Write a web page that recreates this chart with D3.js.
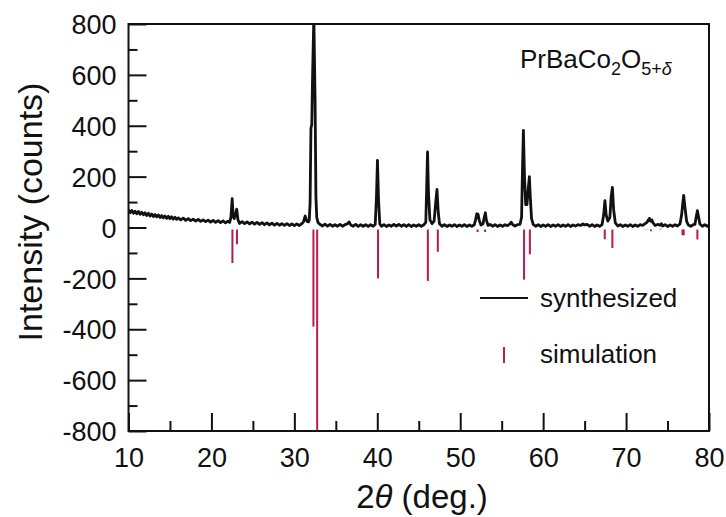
<!DOCTYPE html>
<html>
<head>
<meta charset="utf-8">
<script src="https://cdn.jsdelivr.net/npm/d3@7"></script>
<style>
body { margin: 0; background: #fff; }
svg text { font-family: "Liberation Sans", Arial, Helvetica, sans-serif; fill: #111; }
</style>
</head>
<body>
<svg id="chart" width="726" height="517"></svg>
<script>
// measured pattern (2theta, counts)
var synthesized = [
    [10.0,70],[10.2,58],[10.4,67],[10.6,56],[10.8,64],[11.0,54],[11.2,63],[11.4,52],[11.6,60],[11.8,50],
    [12.0,58],[12.2,47],[12.4,56],[12.6,45],[12.8,53],[13.0,43],[13.2,51],[13.4,42],[13.6,49],[13.8,39],
    [14.0,47],[14.2,38],[14.4,45],[14.6,36],[14.8,44],[15.0,35],[15.2,42],[15.4,33],[15.6,40],[15.8,32],
    [16.0,38],[16.3,30],[16.6,37],[16.9,28],[17.2,35],[17.5,27],[17.8,33],[18.1,25],[18.4,32],[18.7,24],
    [19.0,30],[19.3,23],[19.6,29],[19.9,21],[20.2,28],[20.5,20],[20.8,27],[21.1,19],[21.4,26],[21.7,18],
    [22.0,25],[22.2,20],[22.35,40],[22.5,113],[22.62,45],[22.75,35],[22.9,52],[23.05,72],[23.2,30],[23.4,16],
    [23.7,23],[24.0,15],[24.3,22],[24.6,14],[24.9,21],[25.2,13],[25.5,20],[25.8,12],[26.1,19],[26.4,11],
    [26.7,18],[27.0,10],[27.3,17],[27.6,9],[27.9,16],[28.2,9],[28.5,15],[28.8,8],[29.1,15],[29.4,8],
    [29.7,14],[30.0,7],[30.3,14],[30.6,8],[30.9,15],[31.1,22],[31.3,45],[31.5,25],[31.7,22],[31.8,30],
    [31.9,100],[32.0,390],[32.1,405],[32.2,600],[32.35,830],[32.5,500],[32.6,120],[32.7,40],[32.85,20],[33.1,12],
    [33.4,6],[33.7,13],[34.0,5],[34.3,12],[34.6,5],[34.9,11],[35.2,5],[35.5,12],[35.8,5],[36.1,11],
    [36.4,14],[36.6,22],[36.8,10],[37.1,5],[37.4,12],[37.7,4],[38.0,11],[38.3,5],[38.6,11],[38.9,4],
    [39.2,11],[39.5,5],[39.75,12],[39.9,120],[40.02,264],[40.15,110],[40.3,14],[40.5,5],[40.8,11],[41.1,4],
    [41.4,10],[41.7,5],[42.0,12],[42.3,6],[42.6,12],[42.9,5],[43.2,11],[43.5,4],[43.8,11],[44.1,4],
    [44.4,10],[44.7,5],[45.0,11],[45.3,5],[45.6,10],[45.85,20],[45.95,150],[46.06,297],[46.18,130],[46.35,30],
    [46.6,15],[46.85,25],[47.05,100],[47.2,150],[47.35,60],[47.5,15],[47.8,5],[48.1,11],[48.4,4],[48.7,10],
    [49.0,5],[49.3,11],[49.6,4],[49.9,10],[50.2,5],[50.5,11],[50.8,4],[51.1,10],[51.4,5],[51.7,11],
    [51.85,30],[52.0,54],[52.15,52],[52.3,28],[52.5,10],[52.75,15],[52.9,40],[53.03,58],[53.15,30],[53.35,8],
    [53.6,12],[53.9,5],[54.2,11],[54.5,4],[54.8,10],[55.1,5],[55.4,11],[55.7,7],[56.0,14],[56.15,21],
    [56.3,12],[56.6,6],[56.9,11],[57.2,12],[57.4,40],[57.52,250],[57.62,382],[57.75,200],[57.9,90],[58.05,90],
    [58.2,150],[58.34,200],[58.45,120],[58.6,35],[58.8,12],[59.1,5],[59.4,11],[59.7,4],[60.0,10],[60.3,5],
    [60.6,11],[60.9,4],[61.2,10],[61.5,5],[61.8,11],[62.1,4],[62.4,10],[62.7,5],[63.0,11],[63.3,4],
    [63.6,10],[63.9,6],[64.2,11],[64.5,8],[64.8,14],[65.0,10],[65.3,12],[65.6,5],[65.9,11],[66.2,4],
    [66.5,10],[66.8,5],[67.1,11],[67.3,50],[67.45,106],[67.6,50],[67.8,25],[68.05,40],[68.2,120],[68.35,158],
    [68.5,70],[68.7,18],[69.0,6],[69.3,11],[69.6,4],[69.9,10],[70.2,5],[70.5,11],[70.8,4],[71.1,10],
    [71.4,5],[71.7,11],[72.0,8],[72.3,15],[72.5,20],[72.7,30],[72.8,36],[72.95,25],[73.1,30],[73.25,18],
    [73.5,8],[73.8,12],[74.1,9],[74.25,15],[74.4,6],[74.7,11],[75.0,4],[75.3,10],[75.6,5],[75.9,11],
    [76.2,6],[76.5,14],[76.7,50],[76.85,100],[76.95,126],[77.1,80],[77.3,25],[77.5,10],[77.8,5],[78.1,11],
    [78.3,12],[78.45,40],[78.6,66],[78.75,40],[78.9,14],[79.2,5],[79.5,11],[79.8,5],[80.0,9]
];

// simulated reflections, drawn downward
var simulation = [
    [22.53,-140],[23.08,-66],[32.3,-390],[32.75,-800],[34.3,-8],[35.0,-8],
    [40.09,-200],[46.1,-210],[47.3,-95],[52.1,-18],[53.0,-18],[57.7,-205],
    [58.4,-105],[67.43,-46],[68.35,-81],[72.2,-7],[72.5,-7],[73.0,-15],
    [74.15,-5],[76.8,-30],[76.95,-30],[78.6,-47]
];

var xMajor = [10, 20, 30, 40, 50, 60, 70, 80];
var xMinor = [15, 25, 35, 45, 55, 65, 75];
var yMajor = [-800, -600, -400, -200, 0, 200, 400, 600, 800];
var yMinor = [-700, -500, -300, -100, 100, 300, 500, 700];

var plotL = 128.5, plotR = 709, plotT = 24, plotB = 431;
var simColor = "#b81a52";

var svg = d3.select("#chart");

var x = d3.scaleLinear().domain([10, 80]).range([plotL, plotR]);
var y = d3.scaleLinear().domain([-800, 800]).range([plotB, plotT]);

svg.append("clipPath").attr("id", "plot")
    .append("rect")
    .attr("x", plotL).attr("y", plotT)
    .attr("width", plotR - plotL).attr("height", plotB - plotT);

// simulation bars
svg.append("g")
    .attr("clip-path", "url(#plot)")
    .selectAll("line")
    .data(simulation)
    .enter()
    .append("line")
    .attr("x1", function (d) { return x(d[0]); })
    .attr("x2", function (d) { return x(d[0]); })
    .attr("y1", y(0) + 2)
    .attr("y2", function (d) { return y(d[1]); })
    .attr("stroke", simColor)
    .attr("stroke-width", 2);

// measured curve
var line = d3.line()
    .x(function (d) { return x(d[0]); })
    .y(function (d) { return y(d[1]); });

svg.append("path")
    .datum(synthesized)
    .attr("clip-path", "url(#plot)")
    .attr("d", line)
    .attr("fill", "none")
    .attr("stroke", "#111")
    .attr("stroke-width", 2.8)
    .attr("stroke-linejoin", "round");

// frame
svg.append("rect")
    .attr("x", plotL).attr("y", plotT)
    .attr("width", plotR - plotL).attr("height", plotB - plotT)
    .attr("fill", "none")
    .attr("stroke", "#111")
    .attr("stroke-width", 2);

// axes, ticks pointing inward
var plain = function (d) { return String(d); };
var gx = svg.append("g").attr("transform", "translate(0," + plotB + ")")
    .call(d3.axisBottom(x).tickValues(xMajor).tickSize(-18).tickPadding(17).tickFormat(plain));
svg.append("g").attr("transform", "translate(0," + plotB + ")")
    .call(d3.axisBottom(x).tickValues(xMinor).tickSize(-10).tickFormat(""));
var gy = svg.append("g").attr("transform", "translate(" + plotL + ",0)")
    .call(d3.axisLeft(y).tickValues(yMajor).tickSize(-18).tickPadding(12).tickFormat(plain));
svg.append("g").attr("transform", "translate(" + plotL + ",0)")
    .call(d3.axisLeft(y).tickValues(yMinor).tickSize(-9).tickFormat(""));

svg.selectAll(".domain").remove();
svg.selectAll(".tick line").attr("stroke", "#111").attr("stroke-width", 2);
gx.selectAll("text").attr("font-size", 27).attr("font-family", null);
gy.selectAll("text").attr("font-size", 27).attr("font-family", null).attr("dy", "0.36em");

// axis titles
svg.append("text")
    .attr("transform", "translate(42,212) rotate(-90)")
    .attr("text-anchor", "middle")
    .attr("font-size", 34)
    .text("Intensity (counts)");

var xt = svg.append("text")
    .attr("x", 422).attr("y", 508)
    .attr("text-anchor", "middle")
    .attr("font-size", 33);
xt.append("tspan").text("2");
xt.append("tspan").attr("font-style", "italic").text("\u03b8");
xt.append("tspan").text(" (deg.)");

// compound label
var lab = svg.append("text").attr("x", 520).attr("y", 68).attr("font-size", 26);
lab.append("tspan").text("PrBaCo");
lab.append("tspan").attr("font-size", 18).attr("dy", 7).text("2");
lab.append("tspan").attr("dy", -7).text("O");
lab.append("tspan").attr("font-size", 18).attr("dy", 7).text("5+");
lab.append("tspan").attr("font-size", 18).attr("font-style", "italic").text("\u03b4");

// legend
svg.append("line")
    .attr("x1", 480).attr("x2", 528).attr("y1", 298).attr("y2", 298)
    .attr("stroke", "#111").attr("stroke-width", 2);
svg.append("text").attr("x", 540).attr("y", 307).attr("font-size", 26).text("synthesized");
svg.append("line")
    .attr("x1", 504).attr("x2", 504).attr("y1", 347).attr("y2", 363)
    .attr("stroke", simColor).attr("stroke-width", 2);
svg.append("text").attr("x", 540).attr("y", 363).attr("font-size", 26).text("simulation");
</script>
</body>
</html>
